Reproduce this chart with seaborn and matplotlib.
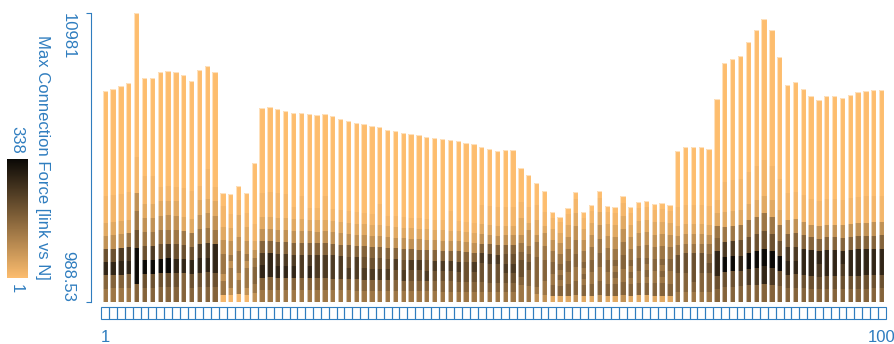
import matplotlib
matplotlib.use("Agg")
import matplotlib.pyplot as plt
import matplotlib.transforms as mtransforms
from matplotlib.colors import LinearSegmentedColormap, Normalize
from matplotlib.cm import ScalarMappable
from matplotlib.patches import Rectangle
import pandas as pd
import seaborn as sns

# ---- data -------------------------------------------------------------
links = list(range(1, 101))

max_force = [
    8281, 8340, 8465, 8548, 10981, 8742, 8730, 8939, 8973, 8939,
    8825, 8627, 9008, 9136, 8930, 4761, 4716, 4993, 4750, 5779,
    7683, 7717, 7648, 7599, 7520, 7515, 7485, 7440, 7480, 7405,
    7322, 7243, 7174, 7129, 7060, 7025, 6942, 6897, 6828, 6783,
    6748, 6700, 6665, 6630, 6585, 6551, 6471, 6436, 6353, 6274,
    6205, 6239, 6236, 5606, 5374, 5107, 4820, 4093, 3931, 4242,
    4786, 4090, 4325, 4830, 4301, 4256, 4647, 4250, 4439, 4474,
    4370, 4394, 4336, 6205, 6353, 6350, 6348, 6284, 8004, 9261,
    9399, 9482, 9988, 10382, 10773, 10378, 9448, 8499, 8582, 8350,
    8108, 7959, 8105, 8110, 8029, 8153, 8236, 8281, 8316, 8320,
]

force_min = 988.53
force_max = 10981
count_min, count_max = 1, 338

# count represented by each occupancy step 0-9
level_counts = [1, 15, 40, 85, 135, 170, 205, 245, 285, 338]

# occupancy step of the 16 equal force bins of each link (bottom -> top)
bin_levels = [
    "4586321100000000", "4586321100000000", "4587321100000000", "4587421100000000",
    "5996431100000000", "5696432110000000", "5697432110000000", "5696432100000000",
    "5697432100000000", "5686432100000000", "5586421100000000", "5686421100000000",
    "5687432100000000", "5687432110000000", "5688432100000000", "1443444332211100",
    "1344434332211000", "1443444332221100", "1344434332211000", "3455432110000000",
    "4587532110000000", "4588532110000000", "4587532110000000", "4587532110000000",
    "4587532100000000", "4577532110000000", "4587532100000000", "4577532100000000",
    "4577532110000000", "4577532100000000", "4577532100000000", "4576532100000000",
    "4577532100000000", "4576532100000000", "4576532100000000", "4576532110000000",
    "4576532100000000", "4567532100000000", "4576532100000000", "4567532100000000",
    "4567532100000000", "4576532100000000", "4567532100000000", "4567532100000000",
    "4567532110000000", "4567532100000000", "4566532100000000", "4567532100000000",
    "4566753211000000", "4566753211000000", "4566753211000000", "4567653211000000",
    "4567653211000000", "4456654322110000", "4455654332110000", "3455554432211000",
    "3445554433211000", "2554455443322110", "2554545443322110", "2554455443322110",
    "3554455443322110", "2554545443322110", "2554455443322110", "3554455443322110",
    "2554455443322110", "2554545443322110", "3554455443322110", "2554545443322110",
    "2554455443322110", "2554545443322110", "2554455443322110", "2554545443322110",
    "2554455443322110", "4556643211000000", "4556643211000000", "4566643211000000",
    "4556643211000000", "4556543211000000", "5688542100000000", "5697421100000000",
    "5697421100000000", "5686421100000000", "5796421100000000", "5796421100000000",
    "5896421100000000", "5796421100000000", "5696421100000000", "5687531100000000",
    "5687531100000000", "5688531100000000", "5688531100000000", "5678531100000000",
    "5688531100000000", "5688531100000000", "5678531100000000", "5688531100000000",
    "5688531100000000", "5688531100000000", "5688531100000000", "5688531100000000",
]

ylabel = "Max Connection Force [link vs N]"

# ---- style ------------------------------------------------------------
sns.set_theme(style="white")
plt.rcParams["font.family"] = ["Liberation Sans", "DejaVu Sans"]
BLUE = "#2f7dbf"
FS = 12

cmap = LinearSegmentedColormap.from_list("force", ["#fdbd6e", "#0b0906"])
norm = Normalize(count_min, count_max)

fig = plt.figure(figsize=(8.94, 3.44), dpi=100)
ax = fig.add_axes([0.1134, 0.1230, 0.8772, 0.8392])

labels = [str(l) for l in links]
n_bins = len(bin_levels[0])
BAR_W = 0.68

# stacked force bins: draw each bin's upper edge from the top layer down,
# so every lower layer paints over the part of the column below it
for k in range(n_bins - 1, -1, -1):
    tops = [force_min + (k + 1) * (m - force_min) / n_bins for m in max_force]
    counts = [level_counts[int(s[k])] for s in bin_levels]
    pal = {lab: cmap(norm(c)) for lab, c in zip(labels, counts)}
    df = pd.DataFrame({"link": labels, "force": tops})
    sns.barplot(data=df, x="link", y="force", hue="link", palette=pal,
                legend=False, width=BAR_W, saturation=1, errorbar=None,
                linewidth=0, ax=ax)

# pale outline around each full column
n_before = len(ax.patches)
sns.barplot(x=labels, y=max_force, color="white", width=BAR_W,
            saturation=1, errorbar=None, ax=ax)
for p in ax.patches[n_before:]:
    p.set_facecolor("none")
    p.set_edgecolor((1, 1, 1, 0.55))
    p.set_linewidth(0.8)

ax.set_xlim(-0.5, len(links) - 0.5)
ax.set_ylim(force_min, force_max)
ax.set_xlabel("")
ax.set_ylabel("")
ax.set_xticks([])
ax.set_yticks([force_min, force_max])
ax.set_yticklabels([])
ax.tick_params(axis="y", length=3.6, width=0.8, color=BLUE, left=True)
for side in ("top", "right", "bottom"):
    ax.spines[side].set_visible(False)
ax.spines["left"].set_position(("outward", 7.5))
ax.spines["left"].set_color(BLUE)
ax.spines["left"].set_linewidth(0.8)

# y range labels and axis title
ty = mtransforms.blended_transform_factory(ax.transAxes, ax.transData)
ax.text(-0.0426, force_max, f"{force_max:g}", rotation=-90, ha="center", va="top",
        color=BLUE, fontsize=FS, transform=ty)
ax.text(-0.0426, force_min, f"{force_min:g}", rotation=-90, ha="center", va="bottom",
        color=BLUE, fontsize=FS, transform=ty)
ax.text(-0.0745, 0.5, ylabel, rotation=-90, ha="center", va="center",
        color=BLUE, fontsize=FS, transform=ax.transAxes)

# category strip along the x axis
tx = mtransforms.blended_transform_factory(ax.transData, ax.transAxes)
for i in range(len(links)):
    ax.add_patch(Rectangle((i - 0.5, -0.0589), 1, 0.0395, transform=tx,
                           fill=False, edgecolor=BLUE, linewidth=0.8, clip_on=False))
ax.text(0, -0.1257, labels[0], ha="center", va="center", color=BLUE,
        fontsize=FS, transform=tx)
ax.text(len(links) - 1, -0.1257, labels[-1], ha="center", va="center", color=BLUE,
        fontsize=FS, transform=tx)

# colour scale
cax = fig.add_axes([0.0082, 0.191, 0.0228, 0.346])
cb = fig.colorbar(ScalarMappable(norm=norm, cmap=cmap), cax=cax)
cb.outline.set_visible(False)
cax.set_yticks([])
fig.text(16.7 / 894, 1 - 140 / 344, f"{count_max}", rotation=-90, ha="center",
         va="center", color=BLUE, fontsize=FS)
fig.text(16.7 / 894, 1 - 288.5 / 344, f"{count_min}", rotation=-90, ha="center",
         va="center", color=BLUE, fontsize=FS)

fig.savefig("out.png", dpi=100)
